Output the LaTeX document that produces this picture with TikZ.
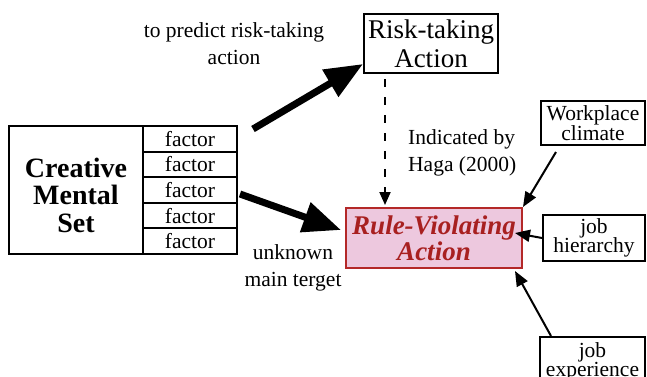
\documentclass[tikz,border=0pt]{standalone}
\usepackage{fontspec}
\setmainfont{Liberation Serif}
\usetikzlibrary{arrows.meta,calc}
\definecolor{rvfill}{RGB}{237,200,222}
\definecolor{rvline}{RGB}{180,40,40}
\definecolor{rvtext}{RGB}{168,32,32}
\begin{document}
\begin{tikzpicture}[x=1pt,y=-1pt,
  box/.style={draw=black,line width=2pt,rectangle,inner sep=0pt,align=center},
  fbox/.style={box,minimum width=94pt,minimum height=25.6pt,font=\fontsize{21.5}{21.5}\selectfont},
  sbox/.style={box,font=\fontsize{21.5}{19.5}\selectfont},
  lbl/.style={inner sep=0pt,font=\fontsize{21.5}{27}\selectfont},
  bigarrow/.style={line width=7pt,-{Triangle[length=38pt,width=30pt]}},
  thinarrow/.style={line width=2pt,-{Triangle[length=15pt,width=12pt]}}
]
\useasboundingbox (0,0) rectangle (647,376);
\node[box,minimum width=134pt,minimum height=128pt] (cms) at (76,190) {};
\node[inner sep=0pt,align=center,font=\fontsize{28}{27.5}\selectfont\bfseries] (cmstext) at (76,195) {Creative\\Mental\\Set};
\foreach \i in {0,...,4}{
  \node[fbox] (f\i) at (190,{138.8+25.6*\i}) {factor};
}
\node[box,minimum width=134pt,minimum height=59pt,font=\fontsize{27}{29}\selectfont] (risk) at (431,43.5) {Risk-taking\\Action};
\node[box,draw=rvline,fill=rvfill,text=rvtext,minimum width=176pt,minimum height=60pt,font=\fontsize{27}{26}\selectfont\bfseries\itshape] (rule) at (434,238) {Rule-Violating\\Action};
\node[sbox,minimum width=104pt,minimum height=44pt] (wc) at (593,123) {Workplace\\climate};
\node[sbox,minimum width=102pt,minimum height=46pt] (jh) at (594,238) {job\\hierarchy};
\node[sbox,minimum width=105pt,minimum height=50pt,anchor=north] (je) at (592.5,336) {job\\experience};
\node[lbl,align=center] (t1) at (234,43.5) {to predict risk-taking\\action};
\node[lbl,align=left,anchor=west] (t2) at (408,153) {Indicated by\\Haga (2000)};
\node[lbl,align=center] (t3) at (293,268) {unknown\\main terget};
\coordinate (a1s) at (253,129);
\coordinate (a2s) at (240,194);
\draw[bigarrow] (a1s) -- ($(risk.south west)+(0,-10)$);
\draw[bigarrow] (a2s) -- ($(rule.west)+(-4,-8)$);
\draw[line width=2pt,dash pattern=on 8pt off 10pt,-{Triangle[length=13pt,width=11pt]}] ($(risk.south)+(-46,5)$) -- ($(rule.north)+(-49,-2)$);
\draw[thinarrow] ($(wc.south west)+(16,6)$) -- (rule.north east);
\draw[thinarrow] (jh.west) -- ($(rule.east)+(-8,-5)$);
\draw[thinarrow] ($(je.north west)+(12,0)$) -- ($(rule.south east)+(-8,2)$);
\end{tikzpicture}
\end{document}
